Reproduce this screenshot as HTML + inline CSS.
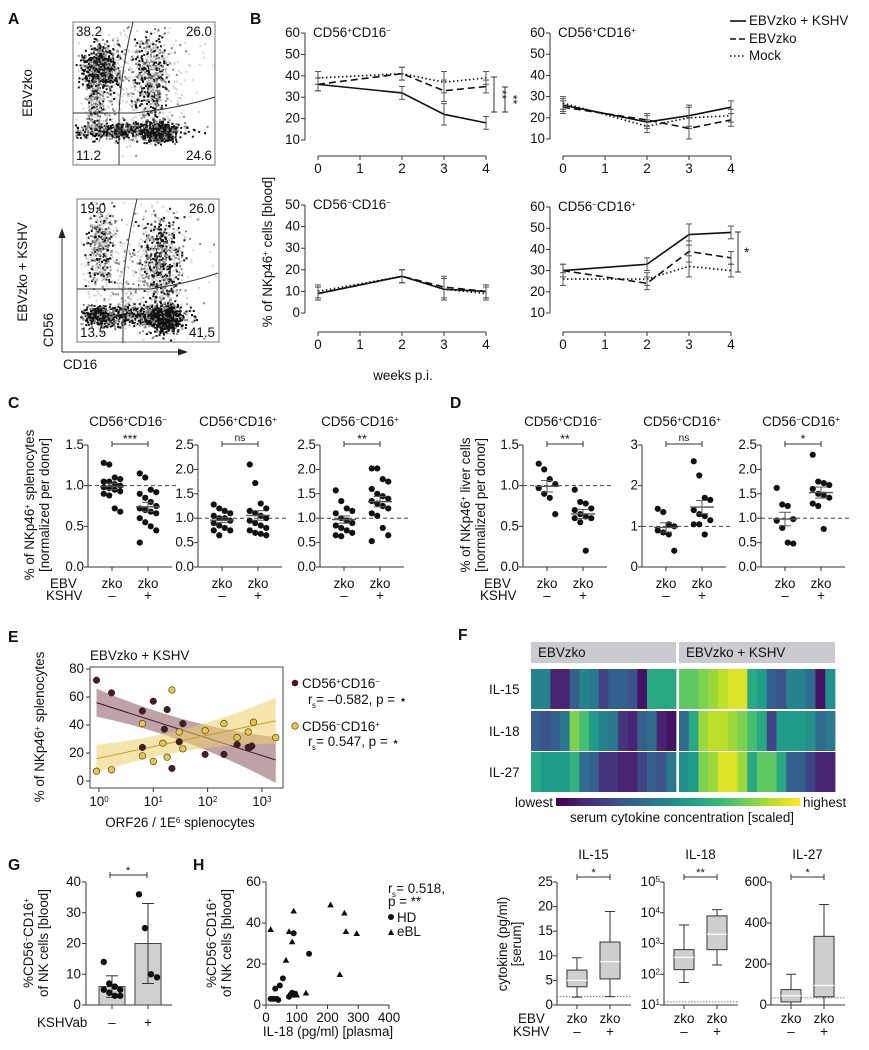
<!DOCTYPE html>
<html><head><meta charset="utf-8">
<style>
html,body{margin:0;padding:0;background:#fff;}
svg{display:block;font-family:"Liberation Sans","DejaVu Sans",sans-serif;}
</style></head>
<body>
<svg id="fig" width="869" height="1050" viewBox="0 0 869 1050" xmlns="http://www.w3.org/2000/svg"></svg>
<script>
// ---------- DATA ----------
const weeks=[0,2,3,4];
const bTL_kshv=[36,32,22,18], bTL_ebv=[36,41,33,35], bTL_mock=[39,41,37,39];
const bTR_kshv=[26,18,21,25], bTR_ebv=[25,19,15,19], bTR_mock=[27,16,20,21];
const bBL_kshv=[9,17,11,10], bBL_ebv=[9,17,12,10], bBL_mock=[10,17,11,9];
const bBR_kshv=[30,33,47,48], bBR_ebv=[30,24,39,36], bBR_mock=[26,26,32,30];
const bErr=[3,3,5,3];
const bTickX=["0","1","2","3","4"];

const c1_neg=[1.28,1.26,1.1,1.08,1.05,1.05,1.02,1.0,0.98,0.97,0.95,0.93,0.9,0.88,0.72,0.68];
const c1_pos=[1.15,1.1,0.95,0.92,0.9,0.85,0.8,0.75,0.72,0.7,0.68,0.66,0.6,0.55,0.5,0.45,0.3];
const c2_neg=[1.28,1.2,1.15,1.1,1.05,1.0,1.0,0.95,0.9,0.85,0.8,0.75,0.75,0.65];
const c2_pos=[2.1,1.72,1.3,1.2,1.15,1.1,1.05,1.0,0.95,0.9,0.85,0.8,0.75,0.7,0.68,0.65];
const c3_neg=[1.57,1.35,1.2,1.15,1.1,1.0,0.95,0.9,0.85,0.8,0.75,0.7,0.65,0.63];
const c3_pos=[2.02,2.02,1.8,1.75,1.6,1.5,1.45,1.4,1.35,1.3,1.25,1.2,1.1,1.05,0.8,0.65,0.53];
const d1_neg=[1.27,1.2,1.08,1.02,0.97,0.9,0.85,0.65];
const d1_pos=[0.95,0.8,0.78,0.72,0.7,0.65,0.62,0.6,0.6,0.55,0.2];
const d2_neg=[1.43,1.35,1.05,1.0,0.9,0.85,0.8,0.4];
const d2_pos=[2.6,2.25,1.7,1.65,1.4,1.3,1.25,1.15,1.05,1.05,0.8];
const d3_neg=[1.62,1.28,1.25,0.98,0.95,0.8,0.5,0.48];
const d3_pos=[2.3,1.75,1.72,1.68,1.6,1.5,1.48,1.42,1.3,1.25,0.78];

const eMaroonX=[0.9,1.7,6.3,10,18,16,35,30,6.3,22,90,200,350,560,650,600];
const eMaroonY=[72,63,50,57,51,37,41,28,24,9,19,19,26,24,25,24];
const eYellowX=[0.9,1.7,6.3,10,15,18,6.3,22,30,35,90,200,350,560,700,1800];
const eYellowY=[7,8,18,14,27,17,41,65,35,23,36,41,31,35,42,31];
const eFitMaroon=[56,15], eFitYellow=[16,43];

const gMeans=[6,20], gSD=[3.5,13];
const gNeg=[14,7,6,5,5,4,3,3], gPos=[36,25,10,9];
const hHDx=[15,25,35,40,30,45,55,90,140,80,85,90,95,75], hHDy=[3,3,3,2.5,8,9.5,13,35,25,5,6,5,5.5,4];
const hBLx=[15,75,90,85,65,100,130,210,255,260,295,240], hBLy=[37,36,46,31,22,5,6,49,45,36,35,15];

const hmEBV=[[0.45,0.45,0.1,0.1,0.3,0.45,0.4,0.2,0.3,0.3,0.25,0.05,0.6,0.6,0.6],
             [0.3,0.25,0.3,0.4,0.8,0.7,0.55,0.45,0.4,0.15,0.1,0.3,0.35,0.1,0.05],
             [0.6,0.55,0.55,0.55,0.65,0.35,0.3,0.15,0.15,0.1,0.1,0.2,0.3,0.25,0.4]];
const hmKSHV=[[0.75,0.75,0.8,0.85,0.9,0.95,0.95,0.6,0.55,0.3,0.25,0.45,0.45,0.35,0.05,0.5],
              [0.35,0.6,0.85,0.9,0.9,0.85,0.8,0.7,0.6,0.2,0.55,0.55,0.55,0.5,0.35,0.4],
              [0.5,0.55,0.8,0.85,0.95,0.95,0.85,0.6,0.75,0.75,0.6,0.3,0.3,0.2,0.1,0.1]];
const hmRows=["IL-15","IL-18","IL-27"];

const bx15=[[1.6,3.7,5,7.1,9.6],[1.7,5.3,8.8,12.8,19]];
const bx18=[[54,141,355,630,4000],[200,630,2000,7900,12600]];
const bx27=[[0,15,45,75,150],[0,40,95,335,490]];

// ---------- HELPERS ----------
const NS="http://www.w3.org/2000/svg";
const FS=1.12;
const svg=document.getElementById('fig');
function mk(tag,attrs,name){
  const el=document.createElementNS(NS,tag);
  for(const k in attrs) el.setAttribute(k,attrs[k]);
  
  
  svg.appendChild(el);return el;
}
function line(x1,y1,x2,y2,name,st){return mk('line',Object.assign({x1,y1,x2,y2,stroke:'#333','stroke-width':1},st||{}),name);}
function txt(x,y,s,name,o){
  o=o||{};
  const el=mk('text',{x,y,'font-size':((o.fs||11)*FS).toFixed(1),'text-anchor':o.a||'start',fill:o.fill||'#111','font-weight':o.fw||'normal'},name);
  if(o.rot!==undefined) el.setAttribute('transform','rotate('+o.rot+' '+x+' '+y+')');
  el.textContent=s;return el;
}
function mixed(x,y,parts,name,o){
  const el=txt(x,y,'',name,o);
  parts.forEach((p,i)=>{const t=document.createElementNS(NS,'tspan');if(i%2==1){t.setAttribute('baseline-shift','super');t.setAttribute('font-size',Math.round((o&&o.fs||11)*0.62*FS));}t.textContent=p;el.appendChild(t);});
  return el;
}
function lettr(x,y,s){txt(x,y,s,'panel-label-'+s.toLowerCase(),{fs:14,fw:'bold'});}

// ---------- PANEL A (flow) ----------
lettr(8,24,'A');lettr(250,24,'B');
let seed=7;function rnd(){seed=(seed*16807)%2147483647;return seed/2147483647;}
function gauss(){return (rnd()+rnd()+rnd()+rnd()-2)*1.7;}
function flow(bx,by,clusters,name){
  mk('rect',{x:bx,y:by,width:142,height:143,fill:'#fff',stroke:'#777'},name+'-frame');
  clusters.forEach(c=>{
    for(let i=0;i<c.n;i++){
      const x=c.x+gauss()*c.sx, y=c.y+gauss()*c.sy;
      if(x<bx+2||x>bx+140||y<by+2||y>by+141) continue;
      const r=rnd();const col=r<c.dark?'#111':(r<c.dark+0.3?'#888':'#d4d4d4');
      mk('rect',{x:x.toFixed(1),y:y.toFixed(1),width:2,height:2,fill:col},name+'-event');
    }
  });
}
flow(73,22,[{x:130,y:80,sx:30,sy:30,n:500,dark:0},{x:100,y:68,sx:9,sy:11,n:700,dark:0.65},{x:150,y:80,sx:8,sy:22,n:500,dark:0.4},{x:125,y:130,sx:28,sy:4,n:700,dark:0.6},{x:160,y:132,sx:7,sy:5,n:400,dark:0.8},{x:95,y:105,sx:5,sy:16,n:200,dark:0.3}],'flow-ebvzko');
flow(77,199,[{x:135,y:270,sx:30,sy:35,n:500,dark:0},{x:100,y:245,sx:7,sy:20,n:400,dark:0.3},{x:160,y:262,sx:10,sy:24,n:600,dark:0.4},{x:130,y:315,sx:28,sy:5,n:700,dark:0.55},{x:165,y:318,sx:8,sy:7,n:600,dark:0.8},{x:97,y:315,sx:6,sy:4,n:250,dark:0.75}],'flow-ebvzko-kshv');
mk('path',{d:'M133 22 Q121 70 119 113 L119 165',fill:'none',stroke:'#333'},'gate-vertical-1');
mk('path',{d:'M73 113 L135 113 Q180 108 215 97',fill:'none',stroke:'#333'},'gate-horizontal-1');
mk('path',{d:'M137 199 Q125 250 123 289 L123 343',fill:'none',stroke:'#333'},'gate-vertical-2');
mk('path',{d:'M77 289 L150 289 Q190 283 218 273',fill:'none',stroke:'#333'},'gate-horizontal-2');
[[76,36,'38.2','start'],[212,36,'26.0','end'],[76,160,'11.2','start'],[212,160,'24.6','end'],
 [80,213,'19.0','start'],[215,213,'26.0','end'],[80,337,'13.5','start'],[215,337,'41.5','end']].forEach(q=>
  txt(q[0],q[1],q[2],'quadrant-percent',{fs:12,a:q[3]}));
txt(32,93,'EBVzko','row-label-ebvzko',{fs:12,a:'middle',rot:-90});
txt(27,272,'EBVzko + KSHV','row-label-ebvzko-kshv',{fs:12,a:'middle',rot:-90});
line(62,352,62,235,'cd56-axis-arrow');mk('path',{d:'M58.5 238 L62 228 L65.5 238 Z',fill:'#222'},'cd56-arrowhead');
line(62,352,180,352,'cd16-axis-arrow');mk('path',{d:'M178 348.5 L188 352 L178 355.5 Z',fill:'#222'},'cd16-arrowhead');
txt(53,330,'CD56','cd56-label',{fs:12,a:'middle',rot:-90});
txt(63,369,'CD16','cd16-label',{fs:12});

// ---------- PANEL B ----------
function bPanel(cfg){
  const xs=w=>cfg.x0+w*(cfg.x4-cfg.x0)/4;
  const ys=v=>cfg.yb-(v-cfg.vmin)*cfg.k;
  line(cfg.ax,ys(cfg.vmax),cfg.ax,ys(cfg.vmin),cfg.id+'-y-axis');
  for(let v=cfg.vmin;v<=cfg.vmax;v+=10){line(cfg.ax-4,ys(v),cfg.ax,ys(v),cfg.id+'-y-tick');txt(cfg.ax-5,ys(v)+4,String(v),cfg.id+'-y-tick-label',{fs:12,a:'end'});}
  line(cfg.x0,cfg.xa,cfg.x4,cfg.xa,cfg.id+'-x-axis');
  bTickX.forEach((t,i)=>{line(xs(i),cfg.xa,xs(i),cfg.xa+4,cfg.id+'-x-tick');txt(xs(i),cfg.xa+17,t,cfg.id+'-x-tick-label',{fs:12,a:'middle'});});
  mixed(cfg.ax+8,ys(cfg.vmax)+4,cfg.title,cfg.id+'-title',{fs:12});
  const ser=[[cfg.mock,'1.5,2.5','mock'],[cfg.ebv,'7,4','ebvzko'],[cfg.kshv,'','ebvzko-kshv']];
  ser.forEach(s=>{
    const pts=weeks.map((w,i)=>xs(w)+','+ys(s[0][i])).join(' ');
    const p=mk('polyline',{points:pts,fill:'none',stroke:'#111','stroke-width':1.6},cfg.id+'-line-'+s[2]);
    if(s[1]) p.setAttribute('stroke-dasharray',s[1]);
    weeks.forEach((w,i)=>{const x=xs(w),y1=ys(s[0][i]+bErr[i]),y2=ys(s[0][i]-bErr[i]);
      line(x,y1,x,y2,cfg.id+'-error-bar',{stroke:'#555'});line(x-3,y1,x+3,y1,cfg.id+'-error-cap',{stroke:'#555'});line(x-3,y2,x+3,y2,cfg.id+'-error-cap',{stroke:'#555'});});
  });
}
bPanel({id:'b-cd56pos-cd16neg',x0:318,x4:486,ax:305,yb:140,vmin:10,vmax:60,k:2.14,xa:156,kshv:bTL_kshv,ebv:bTL_ebv,mock:bTL_mock,title:['CD56','+','CD16','−']});
bPanel({id:'b-cd56pos-cd16pos',x0:563,x4:731,ax:550,yb:139,vmin:10,vmax:60,k:2.12,xa:156,kshv:bTR_kshv,ebv:bTR_ebv,mock:bTR_mock,title:['CD56','+','CD16','+']});
bPanel({id:'b-cd56neg-cd16neg',x0:318,x4:486,ax:305,yb:313,vmin:0,vmax:50,k:2.16,xa:332,kshv:bBL_kshv,ebv:bBL_ebv,mock:bBL_mock,title:['CD56','−','CD16','−']});
bPanel({id:'b-cd56neg-cd16pos',x0:563,x4:731,ax:550,yb:313,vmin:10,vmax:60,k:2.12,xa:332,kshv:bBR_kshv,ebv:bBR_ebv,mock:bBR_mock,title:['CD56','−','CD16','+']});
[[494,77,112],[505,87,112]].forEach(b=>{line(b[0],b[1],b[0],b[2],'sig-bracket');line(b[0]-3,b[1],b[0]+3,b[1],'sig-cap');line(b[0]-3,b[2],b[0]+3,b[2],'sig-cap');txt(b[0]+4,(b[1]+b[2])/2,'**','sig-stars',{fs:11,a:'middle',rot:90});});
line(738,232,738,272,'sig-bracket');line(735,232,741,232,'sig-cap');line(735,272,741,272,'sig-cap');txt(744,257,'*','sig-star',{fs:12});
mixed(272,252,['% of NKp46','+',' cells [blood]'],'b-y-axis-title',{fs:12,a:'middle',rot:-90});
txt(403,380,'weeks p.i.','b-x-axis-title',{fs:12,a:'middle'});
[[25,'','EBVzko + KSHV'],[43,'6,3','EBVzko'],[60,'1.5,2.5','Mock']].forEach(l=>{
  const e=line(730,l[0]-4,746,l[0]-4,'legend-line',{'stroke-width':1.6,stroke:'#111'});if(l[1])e.setAttribute('stroke-dasharray',l[1]);
  txt(749,l[0],l[2],'legend-entry',{fs:12});});

// ---------- DOT PLOTS (C, D) ----------
function dotPanel(cfg){
  const ys=v=>567-v*122/cfg.vmax;
  line(cfg.ax,445,cfg.ax,567,cfg.id+'-y-axis');
  cfg.ticks.forEach(t=>{line(cfg.ax-4,ys(t),cfg.ax,ys(t),cfg.id+'-y-tick');txt(cfg.ax-4,ys(t)+4,cfg.fmt(t),cfg.id+'-y-tick-label',{fs:12,a:'end'});});
  line(cfg.ax,567,cfg.ax+84,567,cfg.id+'-x-axis');
  const cx=[cfg.ax+24,cfg.ax+60];
  cx.forEach(x=>line(x,567,x,571,cfg.id+'-x-tick'));
  line(cfg.ax,ys(1),cfg.ax+90,ys(1),cfg.id+'-reference-line',{'stroke-dasharray':'4,3',stroke:'#444'});
  [cfg.neg,cfg.pos].forEach((arr,g)=>{
    arr.forEach((v,i)=>{const off=((i%4)-1.5)*5.5;mk('circle',{cx:cx[g]+off,cy:ys(v),r:3.1,fill:'#111'},cfg.id+(g?'-dot-kshv-pos':'-dot-kshv-neg'));});
    const m=arr.reduce((a,b)=>a+b,0)/arr.length;
    const sd=Math.sqrt(arr.reduce((a,b)=>a+(b-m)*(b-m),0)/(arr.length-1));const se=sd/Math.sqrt(arr.length);
    line(cx[g]-12,ys(m),cx[g]+12,ys(m),cfg.id+'-mean-line',{stroke:'#555','stroke-width':1.4});
    line(cx[g],ys(m-se),cx[g],ys(m+se),cfg.id+'-sem-bar',{stroke:'#555'});
    line(cx[g]-6,ys(m-se),cx[g]+6,ys(m-se),cfg.id+'-sem-cap',{stroke:'#555'});line(cx[g]-6,ys(m+se),cx[g]+6,ys(m+se),cfg.id+'-sem-cap',{stroke:'#555'});
  });
  line(cx[0],444,cx[1],444,cfg.id+'-sig-bracket');line(cx[0],441,cx[0],447,cfg.id+'-sig-cap');line(cx[1],441,cx[1],447,cfg.id+'-sig-cap');
  txt((cx[0]+cx[1])/2,cfg.sig=='ns'?441:443,cfg.sig,cfg.id+'-sig-label',{fs:cfg.sig=='ns'?9:11,a:'middle'});
  mixed(cfg.ax+40,426,cfg.title,cfg.id+'-title',{fs:12,a:'middle'});
  txt(cx[0],588,'zko',cfg.id+'-ebv-label',{fs:12,a:'middle'});txt(cx[1],588,'zko',cfg.id+'-ebv-label',{fs:12,a:'middle'});
  txt(cx[0],600,'–',cfg.id+'-kshv-label',{fs:12,a:'middle'});txt(cx[1],600,'+',cfg.id+'-kshv-label',{fs:12,a:'middle'});
}
const f1=t=>t.toFixed(1), f0=t=>String(t);
lettr(8,408,'C');lettr(450,408,'D');
dotPanel({id:'c-cd56pos-cd16neg',ax:88,vmax:1.5,ticks:[0,0.5,1,1.5],fmt:f1,neg:c1_neg,pos:c1_pos,sig:'***',title:['CD56','+','CD16','−']});
dotPanel({id:'c-cd56pos-cd16pos',ax:198,vmax:2.5,ticks:[0,0.5,1,1.5,2,2.5],fmt:f1,neg:c2_neg,pos:c2_pos,sig:'ns',title:['CD56','+','CD16','+']});
dotPanel({id:'c-cd56neg-cd16pos',ax:320,vmax:2.5,ticks:[0,0.5,1,1.5,2,2.5],fmt:f1,neg:c3_neg,pos:c3_pos,sig:'**',title:['CD56','−','CD16','+']});
dotPanel({id:'d-cd56pos-cd16neg',ax:523,vmax:1.5,ticks:[0,0.5,1,1.5],fmt:f1,neg:d1_neg,pos:d1_pos,sig:'**',title:['CD56','+','CD16','−']});
dotPanel({id:'d-cd56pos-cd16pos',ax:642,vmax:3,ticks:[0,1,2,3],fmt:f0,neg:d2_neg,pos:d2_pos,sig:'ns',title:['CD56','+','CD16','+']});
dotPanel({id:'d-cd56neg-cd16pos',ax:761,vmax:2.5,ticks:[0,0.5,1,1.5,2,2.5],fmt:f1,neg:d3_neg,pos:d3_pos,sig:'*',title:['CD56','−','CD16','+']});
txt(50,588,'EBV','c-ebv-row-label',{fs:12});txt(46,600,'KSHV','c-kshv-row-label',{fs:12});
txt(484,588,'EBV','d-ebv-row-label',{fs:12});txt(480,600,'KSHV','d-kshv-row-label',{fs:12});
mixed(34,505,['% of NKp46','+',' splenocytes'],'c-y-axis-title',{fs:12,a:'middle',rot:-90});
txt(49,505,'[normalized per donor]','c-y-axis-title-2',{fs:12,a:'middle',rot:-90});
mixed(470,505,['% of NKp46','+',' liver cells'],'d-y-axis-title',{fs:12,a:'middle',rot:-90});
txt(485,505,'[normalized per donor]','d-y-axis-title-2',{fs:12,a:'middle',rot:-90});

// ---------- PANEL E ----------
lettr(8,642,'E');
const exs=v=>99+Math.log10(v)*54.3, eys=v=>781-v*1.4;
mk('rect',{x:90,y:667,width:193,height:121,fill:'none',stroke:'#444'},'e-plot-frame');
[0,20,40,60,80].forEach(t=>{line(86,eys(t),90,eys(t),'e-y-tick');txt(84,eys(t)+4,String(t),'e-y-tick-label',{fs:12,a:'end'});});
[0,1,2,3].forEach(t=>{line(exs(Math.pow(10,t)),788,exs(Math.pow(10,t)),792,'e-x-tick');mixed(exs(Math.pow(10,t)),806,['10',String(t)],'e-x-tick-label',{fs:12,a:'middle'});});
function band(fit,col,name){
  const xa=exs(0.9),xb=exs(1800);
  const ya=eys(fit[0]),yb=eys(fit[1]),mid=(xa+xb)/2,ym=(ya+yb)/2;
  mk('path',{d:`M${xa} ${ya-14} Q${mid} ${ym-4} ${xb} ${yb-23} L${xb} ${yb+23} Q${mid} ${ym+4} ${xa} ${ya+14} Z`,fill:col,opacity:0.55},name+'-ci-band');
  line(xa,ya,xb,yb,name+'-fit-line',{stroke:name.indexOf('maroon')>=0?'#3a1a20':'#c9a227'});
}
band(eFitMaroon,'#8a5560','e-maroon');band(eFitYellow,'#eccf6a','e-yellow');
eMaroonX.forEach((x,i)=>mk('circle',{cx:exs(x),cy:eys(eMaroonY[i]),r:3.3,fill:'#4a1a24',stroke:'#222','stroke-width':0.5},'e-point-cd56pos-cd16neg'));
eYellowX.forEach((x,i)=>mk('circle',{cx:exs(x),cy:eys(eYellowY[i]),r:3.3,fill:'#e8c63f',stroke:'#333','stroke-width':0.6},'e-point-cd56neg-cd16pos'));
txt(90,660,'EBVzko + KSHV','e-title',{fs:12});
mixed(44,727,['% of NKp46','+',' splenocytes'],'e-y-axis-title',{fs:12,a:'middle',rot:-90});
mixed(180,827,['ORF26  / 1E','6',' splenocytes'],'e-x-axis-title',{fs:12,a:'middle'});
mk('circle',{cx:295,cy:683,r:3.3,fill:'#4a1a24'},'e-legend-marker-maroon');
mixed(302,688,['CD56','+','CD16','−'],'e-legend-entry',{fs:12});
txt(308,704,'r  = –0.582, p = ⋆','e-legend-stat',{fs:12});txt(312,708,'s','e-legend-sub',{fs:7});
mk('circle',{cx:295,cy:726,r:3.3,fill:'#e8c63f',stroke:'#333','stroke-width':0.6},'e-legend-marker-yellow');
mixed(302,731,['CD56','−','CD16','+'],'e-legend-entry',{fs:12});
txt(308,746,'r  = 0.547, p = ⋆','e-legend-stat',{fs:12});txt(312,750,'s','e-legend-sub',{fs:7});

// ---------- PANEL F heatmap ----------
lettr(458,640,'F');
const vir=[[68,1,84],[72,40,120],[62,74,137],[49,104,142],[38,130,142],[31,158,137],[53,183,121],[110,206,88],[181,222,43],[253,231,37]];
function viridis(t){t=Math.max(0,Math.min(1,t))*9;const i=Math.min(8,Math.floor(t)),f=t-i;const a=vir[i],b=vir[i+1];return 'rgb('+a.map((c,k)=>Math.round(c+(b[k]-c)*f)).join(',')+')';}
mk('rect',{x:531,y:642,width:145,height:21,fill:'#c9cbd0'},'f-group-header-ebvzko');
mk('rect',{x:679,y:642,width:156,height:21,fill:'#c9cbd0'},'f-group-header-ebvzko-kshv');
txt(538,657,'EBVzko','f-group-label-ebvzko',{fs:12});txt(686,657,'EBVzko + KSHV','f-group-label-ebvzko-kshv',{fs:12});
const rowY=[669,711,752];
hmRows.forEach((r,ri)=>{
  txt(489,rowY[ri]+25,r,'f-row-label',{fs:12});
  const w1=145/hmEBV[ri].length;hmEBV[ri].forEach((v,ci)=>mk('rect',{x:531+ci*w1,y:rowY[ri],width:w1+0.4,height:40,fill:viridis(v)},'f-heatmap-cell'));
  const w2=156/hmKSHV[ri].length;hmKSHV[ri].forEach((v,ci)=>mk('rect',{x:679+ci*w2,y:rowY[ri],width:w2+0.4,height:40,fill:viridis(v)},'f-heatmap-cell'));
});
for(let i=0;i<60;i++) mk('rect',{x:556+i*244/60,y:798,width:244/60+0.4,height:8,fill:viridis(i/59)},'f-colorbar-segment');
txt(553,807,'lowest','f-colorbar-low',{fs:12,a:'end'});txt(803,807,'highest','f-colorbar-high',{fs:12});
txt(682,822,'serum cytokine concentration [scaled]','f-colorbar-title',{fs:12,a:'middle'});

// ---------- PANEL F boxplots ----------
function boxPanel(cfg){
  line(cfg.ax,882,cfg.ax,1005,cfg.id+'-y-axis');
  cfg.ticks.forEach(t=>{const y=cfg.ys(t);line(cfg.ax-4,y,cfg.ax,y,cfg.id+'-y-tick');
    if(cfg.log) mixed(cfg.ax-4,y+4,['10',String(Math.round(Math.log10(t)))],cfg.id+'-y-tick-label',{fs:12,a:'end'});
    else txt(cfg.ax-4,y+4,String(t),cfg.id+'-y-tick-label',{fs:12,a:'end'});});
  line(cfg.ax,1005,cfg.ax+74,1005,cfg.id+'-x-axis');
  line(cfg.ax,cfg.ys(cfg.lod),cfg.ax+74,cfg.ys(cfg.lod),cfg.id+'-detection-limit',{stroke:'#777','stroke-dasharray':'1.5,1.5'});
  const cx=[cfg.ax+20,cfg.ax+53];
  cfg.data.forEach((b,g)=>{const x=cx[g];
    line(x,1005,x,1009,cfg.id+'-x-tick');
    line(x,cfg.ys(b[0]),x,cfg.ys(b[4]),cfg.id+'-whisker');
    line(x-5,cfg.ys(b[0]),x+5,cfg.ys(b[0]),cfg.id+'-whisker-cap');line(x-5,cfg.ys(b[4]),x+5,cfg.ys(b[4]),cfg.id+'-whisker-cap');
    mk('rect',{x:x-10,y:cfg.ys(b[3]),width:20,height:cfg.ys(b[1])-cfg.ys(b[3]),fill:'#cfcfcf',stroke:'#333'},cfg.id+'-box');
    line(x-10,cfg.ys(b[2]),x+10,cfg.ys(b[2]),cfg.id+'-median',{stroke:'#fff','stroke-width':1.2});
    txt(x,1023,'zko',cfg.id+'-ebv-label',{fs:12,a:'middle'});txt(x,1036,g?'+':'–',cfg.id+'-kshv-label',{fs:12,a:'middle'});
  });
  line(cx[0],877,cx[1],877,cfg.id+'-sig-bracket');line(cx[0],874,cx[0],880,cfg.id+'-sig-cap');line(cx[1],874,cx[1],880,cfg.id+'-sig-cap');
  txt((cx[0]+cx[1])/2,876,cfg.sig,cfg.id+'-sig-label',{fs:10,a:'middle'});
  txt((cx[0]+cx[1])/2,859,cfg.title,cfg.id+'-title',{fs:12,a:'middle'});
}
boxPanel({id:'f-il15',ax:557,ys:v=>1005-v*123/25,ticks:[0,5,10,15,20,25],data:bx15,lod:1.7,sig:'*',title:'IL-15'});
boxPanel({id:'f-il18',ax:664,log:true,ys:v=>1005-(Math.log10(v)-1)*123/4,ticks:[10,100,1000,10000,100000],data:bx18,lod:12.6,sig:'**',title:'IL-18'});
boxPanel({id:'f-il27',ax:771,ys:v=>1005-v*123/600,ticks:[0,200,400,600],data:bx27,lod:35,sig:'*',title:'IL-27'});
txt(507,944,'cytokine (pg/ml)','f-y-axis-title',{fs:12,a:'middle',rot:-90});
txt(521,944,'[serum]','f-y-axis-title-2',{fs:12,a:'middle',rot:-90});
txt(518,1023,'EBV','f-ebv-row-label',{fs:12});txt(513,1036,'KSHV','f-kshv-row-label',{fs:12});

// ---------- PANEL G ----------
lettr(8,870,'G');
const gys=v=>1005-v*123/40;
line(86,882,86,1005,'g-y-axis');line(86,1005,172,1005,'g-x-axis');
[0,10,20,30,40].forEach(t=>{line(82,gys(t),86,gys(t),'g-y-tick');txt(81,gys(t)+4,String(t),'g-y-tick-label',{fs:12,a:'end'});});
const gx=[112,148];
[gNeg,gPos].forEach((arr,g)=>{
  mk('rect',{x:gx[g]-13,y:gys(gMeans[g]),width:26,height:1005-gys(gMeans[g]),fill:'#d0d0d0',stroke:'#444'},'g-bar');
  line(gx[g],gys(gMeans[g]-gSD[g]),gx[g],gys(gMeans[g]+gSD[g]),'g-error-bar');
  line(gx[g]-6,gys(gMeans[g]+gSD[g]),gx[g]+6,gys(gMeans[g]+gSD[g]),'g-error-cap');line(gx[g]-6,gys(gMeans[g]-gSD[g]),gx[g]+6,gys(gMeans[g]-gSD[g]),'g-error-cap');
  arr.forEach((v,i)=>mk('circle',{cx:gx[g]+((i%4)-1.5)*(g?6:5.5),cy:gys(v),r:3.2,fill:'#111'},'g-dot'));
  line(gx[g],1005,gx[g],1009,'g-x-tick');
  txt(gx[g],1027,g?'+':'–','g-x-tick-label',{fs:12,a:'middle'});
});
line(110,875,147,875,'g-sig-bracket');line(110,872,110,878,'g-sig-cap');line(147,872,147,878,'g-sig-cap');txt(128,874,'*','g-sig-label',{fs:10,a:'middle'});
txt(37,1027,'KSHVab','g-x-axis-title',{fs:12});
mixed(33,943,['%CD56','−','CD16','+'],'g-y-axis-title',{fs:12,a:'middle',rot:-90});
txt(48,943,'of NK cells [blood]','g-y-axis-title-2',{fs:12,a:'middle',rot:-90});

// ---------- PANEL H ----------
lettr(193,870,'H');
const hxs=v=>266+v*123/400, hys=v=>1005-v*123/60;
line(266,882,266,1005,'h-y-axis');line(266,1005,389,1005,'h-x-axis');
[0,20,40,60].forEach(t=>{line(262,hys(t),266,hys(t),'h-y-tick');txt(261,hys(t)+4,String(t),'h-y-tick-label',{fs:12,a:'end'});});
[0,100,200,300,400].forEach(t=>{line(hxs(t),1005,hxs(t),1009,'h-x-tick');txt(hxs(t),1022,String(t),'h-x-tick-label',{fs:12,a:'middle'});});
hHDx.forEach((x,i)=>mk('circle',{cx:hxs(x),cy:hys(hHDy[i]),r:3,fill:'#111'},'h-point-hd'));
hBLx.forEach((x,i)=>{const cx=hxs(x),cy=hys(hBLy[i]);mk('path',{d:`M${cx-3.3} ${cy+2.8} L${cx} ${cy-3} L${cx+3.3} ${cy+2.8} Z`,fill:'#111'},'h-point-ebl');});
txt(328,1036,'IL-18 (pg/ml) [plasma]','h-x-axis-title',{fs:12,a:'middle'});
mixed(216,943,['%CD56','−','CD16','+'],'h-y-axis-title',{fs:12,a:'middle',rot:-90});
txt(231,943,'of NK cells [blood]','h-y-axis-title-2',{fs:12,a:'middle',rot:-90});
txt(388,893,'r  = 0.518,','h-stat-r',{fs:12});txt(392,897,'s','h-stat-sub',{fs:7});
txt(388,906,'p = **','h-stat-p',{fs:12});
mk('circle',{cx:391,cy:917,r:3,fill:'#111'},'h-legend-marker-hd');txt(397,922,'HD','h-legend-hd',{fs:12});
mk('path',{d:'M388 935 L391 929 L394 935 Z',fill:'#111'},'h-legend-marker-ebl');txt(397,936,'eBL','h-legend-ebl',{fs:12});
</script>
</body></html>
